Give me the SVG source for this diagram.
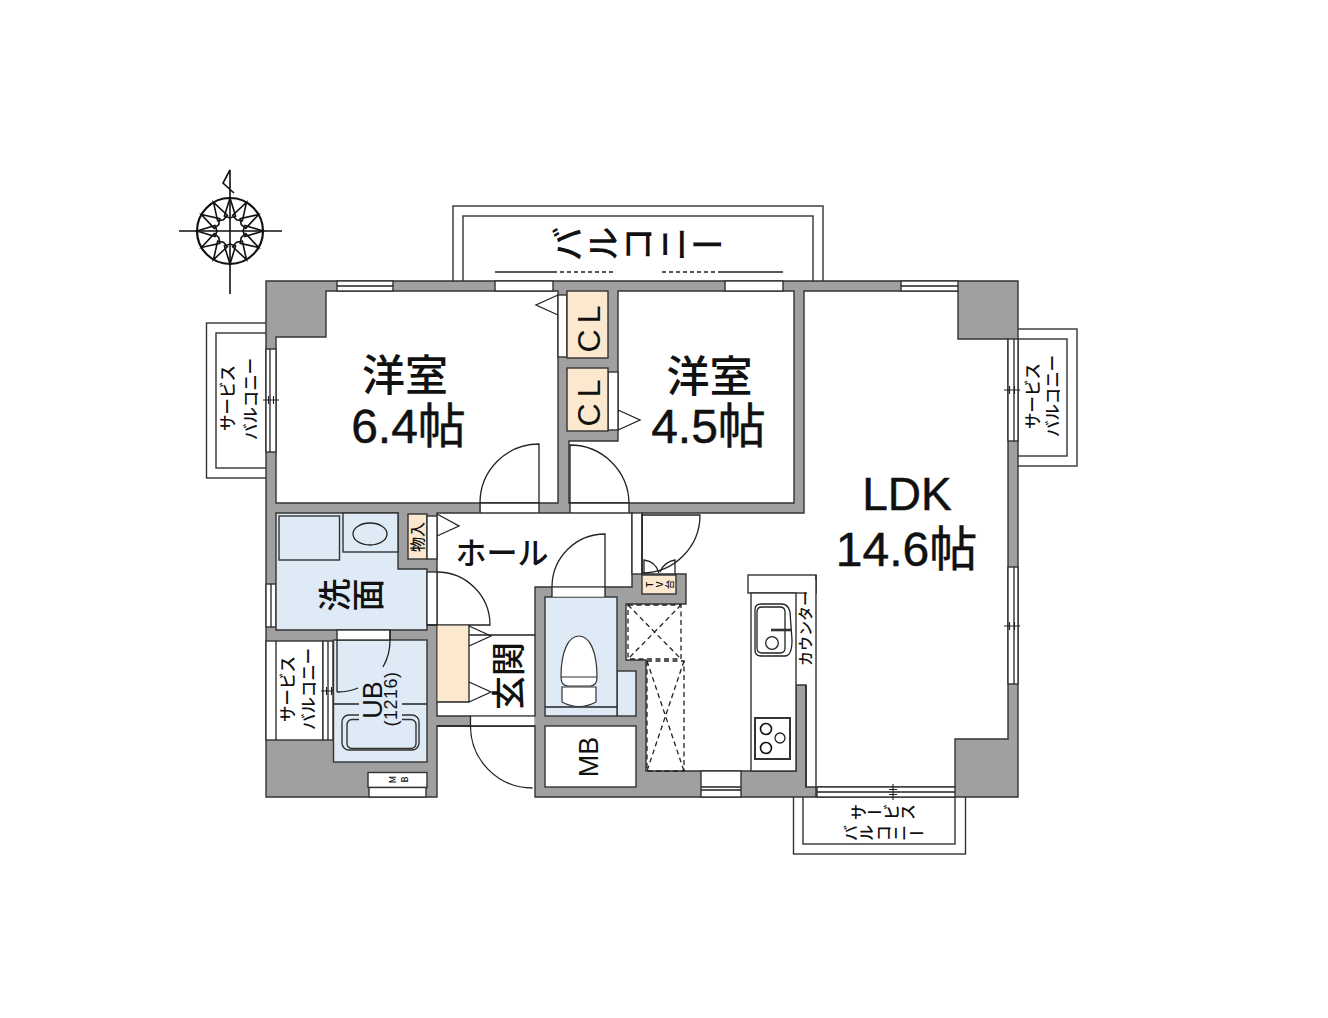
<svg xmlns="http://www.w3.org/2000/svg" xmlns:xlink="http://www.w3.org/1999/xlink" width="1328" height="1018" viewBox="0 0 1328 1018">
<style>
.l{fill:none;stroke:#222;stroke-width:1.3}
.k{fill:none;stroke:#111;stroke-width:1.6}
.w{fill:#fff;stroke:#333;stroke-width:1.4}
.wn{fill:#fff;stroke:none}
.g{fill:#a0a0a0;stroke:#333;stroke-width:1.4}
.b{fill:#deeaf6;stroke:#333;stroke-width:1.4}
.p{fill:#fce8cf;stroke:#333;stroke-width:1.4}
.pn{fill:#fce8cf;stroke:none}
.d{fill:none;stroke:#222;stroke-width:1.3;stroke-dasharray:5 3.5}
text{font-family:"Liberation Sans","Noto Sans CJK JP",sans-serif;fill:#111}
.v{font-family:"Noto Sans CJK JP","Noto Sans CJK SC",sans-serif;writing-mode:vertical-rl;text-orientation:upright;font-weight:500}
.h{font-family:"Noto Sans CJK JP",sans-serif;font-weight:500}
.m{text-anchor:middle}
.big{stroke:#111;stroke-width:.5}
</style>
<defs>
<g id="ray"><path class="k" d="M0,-33L5.6,-15L0,-13L-5.6,-15Z"/></g>
<g id="tick"><path d="M-8,0H8M-2.500,-4V4M2.500,-4V4" fill="none" stroke="#222" stroke-width="1.1"/></g>
</defs>

<g id="balconies">
<rect class="w" x="453" y="206" width="370" height="80"/><rect class="w" x="463" y="216" width="350" height="70"/>
<path d="M495,272H553" class="l"/><path d="M553,272H613M662,272H718" class="d" style="stroke-dasharray:4 3"/><path d="M718,272H783" class="l"/>
<rect class="w" x="206.500" y="323" width="65" height="155"/><rect class="w" x="216" y="333" width="55" height="135"/>
<rect class="w" x="1012" y="329" width="65" height="137"/><rect class="w" x="1012" y="339" width="55" height="117"/>
<rect class="w" x="793.500" y="790" width="172" height="64"/><rect class="w" x="803" y="790" width="152" height="54"/>
</g>

<g id="walls">
<path class="g" d="M266,281H1018V797H535V726H437V797H266Z"/>
<rect class="w" x="266" y="641" width="57" height="99"/>
<path class="l" d="M276,641V740"/>
</g>

<g id="ldk">
<path class="w" d="M804,291H958V339H1008V739H955V787H806V685H796V771H646V660H626V604H686V574H642V513H804Z"/>
<rect class="w" x="748" y="575" width="68" height="18"/>
<path class="wn" d="M807,580H816V786H807Z"/>
<path class="l" d="M816,575V797M806,685V787"/>
<rect class="w" x="751" y="593" width="45" height="178"/>
<rect class="d" x="628" y="605" width="53" height="54"/><path class="d" d="M628,605L681,659M681,605L628,659"/>
<rect class="d" x="647" y="661" width="37" height="110"/><path class="d" d="M647,661L684,771M684,661L647,771"/>
</g>

<g id="kitchen">
<path class="l" d="M755,610Q755,604 761,604H782Q788,604 790,612L792,640Q792,656 785,656H761Q755,656 755,650Z"/>
<path class="l" d="M757,612Q757,607 762,607H780Q785,607 785,612V648Q785,653 780,653H762Q757,653 757,648Z"/>
<path d="M771,630H792" stroke="#333" stroke-width="2.6" fill="none"/>
<circle class="l" cx="772" cy="643" r="6.300"/>
<rect x="755" y="718" width="35" height="41" fill="#fff" stroke="#333" stroke-width="2"/>
<circle class="k" cx="766" cy="729" r="5.500"/><circle class="l" cx="780" cy="738" r="5"/><circle class="k" cx="766" cy="748" r="5.500"/>
</g>

<g id="room-a">
<path class="w" d="M276,337H326V291H558V503H276Z"/>
<rect class="w" x="558" y="295" width="9" height="62"/>
<path class="l" d="M558,295L536,305L558,315"/>
<rect class="wn" x="481" y="503" width="58" height="10"/>
<path class="l" d="M539,513V444A59,59 0 0 0 480,503V513M480,503H539"/>
</g>

<g id="room-b">
<path class="w" d="M618,291H794V503H569V441H618Z"/>
<rect class="w" x="608" y="372" width="10" height="58"/>
<path class="l" d="M618,410L640,420L618,430"/>
<rect class="wn" x="570" y="503" width="59" height="10"/>
<path class="l" d="M570,513V445A59,59 0 0 1 629,503V513M570,503H629"/>
</g>

<g id="closets">
<rect class="p" x="567" y="291" width="41" height="67"/>
<rect class="p" x="567" y="368" width="41" height="63"/>
<text transform="translate(600,326) rotate(-90)" class="m" font-size="32" letter-spacing="6">CL</text>
<text transform="translate(600,400) rotate(-90)" class="m" font-size="32" letter-spacing="6">CL</text>
</g>

<g id="windows">
<rect class="w" x="337" y="281" width="56" height="10"/><path class="l" d="M337,286H393"/>
<rect class="w" x="495" y="281" width="58" height="10"/>
<rect class="w" x="725" y="281" width="58" height="10"/>
<rect class="w" x="901" y="281" width="57" height="10"/><path class="l" d="M901,286H958"/>
<rect class="w" x="266" y="349" width="10" height="103"/><path class="l" d="M270,349V452"/><use xlink:href="#tick" href="#tick" transform="translate(271,400)"/>
<rect class="w" x="1008" y="339" width="10" height="102"/><path class="l" d="M1014,339V441"/><use xlink:href="#tick" href="#tick" transform="translate(1012,390)"/>
<rect class="w" x="1008" y="567" width="10" height="117"/><path class="l" d="M1014,567V684"/><use xlink:href="#tick" href="#tick" transform="translate(1012,626)"/>
<rect class="w" x="817" y="787" width="138" height="10"/><path class="l" d="M817,792H955"/><use xlink:href="#tick" href="#tick" transform="translate(893,792) rotate(90)"/>
<rect class="w" x="266" y="584" width="10" height="43"/><path class="l" d="M271,584V627"/>
<rect class="w" x="323" y="641" width="10" height="99"/><path class="l" d="M328,641V740"/><use xlink:href="#tick" href="#tick" transform="translate(329,691)"/>
<rect class="w" x="701" y="771" width="40" height="26"/><path class="l" d="M701,790H741M701,787H741"/>
</g>

<g id="wash">
<path class="b" d="M276,513H398V569H427V630H276Z"/>
<rect class="b" x="279" y="516" width="60.500" height="44"/>
<rect class="b" x="343" y="513" width="55" height="39"/>
<ellipse class="l" cx="370" cy="534" rx="17" ry="11"/>
<rect class="p" x="408" y="514" width="19" height="45"/>
<text transform="translate(423,552) rotate(-90)" class="h" font-size="15">物入</text>
<text transform="translate(351,595) rotate(-90)" class="v" font-size="33" x="0" y="-33">洗面</text>
</g>

<g id="hall">
<path class="w" d="M437,513H632V587H535V716H437Z"/>
<rect class="w" x="427" y="516" width="10" height="43"/>
<path class="l" d="M437,514L459,526L437,536"/>
<rect class="w" x="427" y="572" width="10" height="53"/>
<path class="l" d="M427,625H490A53,53 0 0 0 437,572"/>
<rect class="w" x="632" y="513" width="10" height="61"/>
<path class="l" d="M642,574V515H700A58,58 0 0 1 642,573"/>
<path class="l" d="M644,573V560C652,561 657,566 659,573M675,574V560C668,561 662,566 660,572"/>
<rect class="pn" x="437.700" y="625.700" width="31.300" height="76.300"/>
<path class="l" d="M469,625V702H437M469,635H535"/>
<path class="l" d="M469,626L491,636L469,646M469,682L491,692L469,702"/>
<text class="h" x="502" y="564" text-anchor="middle" font-size="31">ホール</text>
<text transform="translate(521,676) rotate(-90)" class="h m" font-size="34">玄関</text>
<rect class="wn" x="470.700" y="716.700" width="63.600" height="9"/>
<path class="l" d="M470.500,716V726A62,62 0 0 0 532.500,788M437,726H535"/>
</g>

<g id="ub">
<rect class="b" x="333.500" y="640" width="93.500" height="122"/>
<rect class="w" x="337" y="630" width="53" height="10"/>
<path class="l" d="M337,640V692M337,692A53,53 0 0 0 358,688M383,667A53,53 0 0 0 390,640V630M333.500,704H427"/>
<rect x="342" y="715" width="77" height="35" rx="7" fill="none" stroke="#333" stroke-width="1.4"/>
<rect x="347" y="719.500" width="69" height="29" rx="5" fill="none" stroke="#333" stroke-width="1.4"/>
<rect x="359" y="696" width="43" height="28" fill="#deeaf6"/>
<text transform="translate(382,700) rotate(-90)" class="m" font-size="27">UB</text>
<text transform="translate(397,699) rotate(-90)" class="m" font-size="18" letter-spacing="0.500">(1216)</text>
<rect class="w" x="368" y="772.500" width="59" height="15"/>
<rect class="w" x="369" y="787.500" width="57" height="9.500"/>
<text transform="translate(388,779.500) rotate(-90)" class="v" font-size="9" letter-spacing="3">MB</text>
</g>

<g id="toilet">
<rect class="b" x="617" y="671" width="19" height="45"/>
<rect class="b" x="545" y="597" width="72" height="119"/>
<path class="l" d="M545,707H617"/>
<rect class="wn" x="552" y="587.700" width="53" height="9"/>
<path class="l" d="M552,597V587A53,53 0 0 1 605,534V597"/>
<path class="w" d="M561,677C561,650 569,636 579,636C589,636 597,650 597,677C597,683 594,686 590,686H568C564,686 561,683 561,677ZM561,677H597" style="stroke-width:1.2"/>
<path class="w" d="M562,687H596V702Q579,711 562,702Z" style="stroke-width:1.2"/>
</g>

<g id="mb">
<rect class="w" x="545" y="726" width="91" height="61"/>
<text transform="translate(598,757) rotate(-90)" class="m" font-size="27">MB</text>
</g>

<g id="tv">
<rect class="p" x="642" y="575" width="34" height="19"/>
<text transform="translate(645,584.500) rotate(-90)" class="v" font-size="9.500" letter-spacing="0.500">TV台</text>
</g>

<g id="labels">
<text class="h m" x="405" y="391" font-size="43">洋室</text>
<text class="m big" x="408.500" y="443" font-size="48">6.4帖</text>
<text class="h m" x="709.500" y="392" font-size="43">洋室</text>
<text class="m big" x="708.500" y="443" font-size="48">4.5帖</text>
<text class="m big" x="907" y="510" font-size="46">LDK</text>
<text class="m big" x="906.500" y="566" font-size="48">14.6帖</text>
<text transform="translate(550,244) rotate(-90)" class="v" font-size="35">バルコニー</text>
<text transform="translate(234,431) rotate(-90)" class="h" font-size="16.500">サービス</text>
<text transform="translate(257,440) rotate(-90)" class="h" font-size="16.500">バルコニー</text>
<text transform="translate(1039,429) rotate(-90)" class="h" font-size="16.500">サービス</text>
<text transform="translate(1059,437) rotate(-90)" class="h" font-size="16.500">バルコニー</text>
<text transform="translate(294,722) rotate(-90)" class="h" font-size="16.500">サービス</text>
<text transform="translate(315,730) rotate(-90)" class="h" font-size="16.500">バルコニー</text>
<text transform="translate(850,812) rotate(-90)" class="v" font-size="16.500">サービス</text>
<text transform="translate(842,833) rotate(-90)" class="v" font-size="16.500">バルコニー</text>
<text transform="translate(811,666) rotate(-90)" class="h" font-size="15">カウンター</text>
</g>

<g id="compass">
<circle cx="230" cy="231" r="33" fill="#fff" stroke="#111" stroke-width="2.2"/>
<use href="#ray" transform="translate(230,231)"/><use href="#ray" transform="translate(230,231) rotate(30)"/><use href="#ray" transform="translate(230,231) rotate(60)"/><use href="#ray" transform="translate(230,231) rotate(90)"/><use href="#ray" transform="translate(230,231) rotate(120)"/><use href="#ray" transform="translate(230,231) rotate(150)"/><use href="#ray" transform="translate(230,231) rotate(180)"/><use href="#ray" transform="translate(230,231) rotate(210)"/><use href="#ray" transform="translate(230,231) rotate(240)"/><use href="#ray" transform="translate(230,231) rotate(270)"/><use href="#ray" transform="translate(230,231) rotate(300)"/><use href="#ray" transform="translate(230,231) rotate(330)"/>
<path d="M179,231H282M230,198V294" fill="none" stroke="#111" stroke-width="1.6"/>
<path d="M230,198V170L223,183L234,193" fill="none" stroke="#111" stroke-width="1.6"/>
</g>
</svg>
